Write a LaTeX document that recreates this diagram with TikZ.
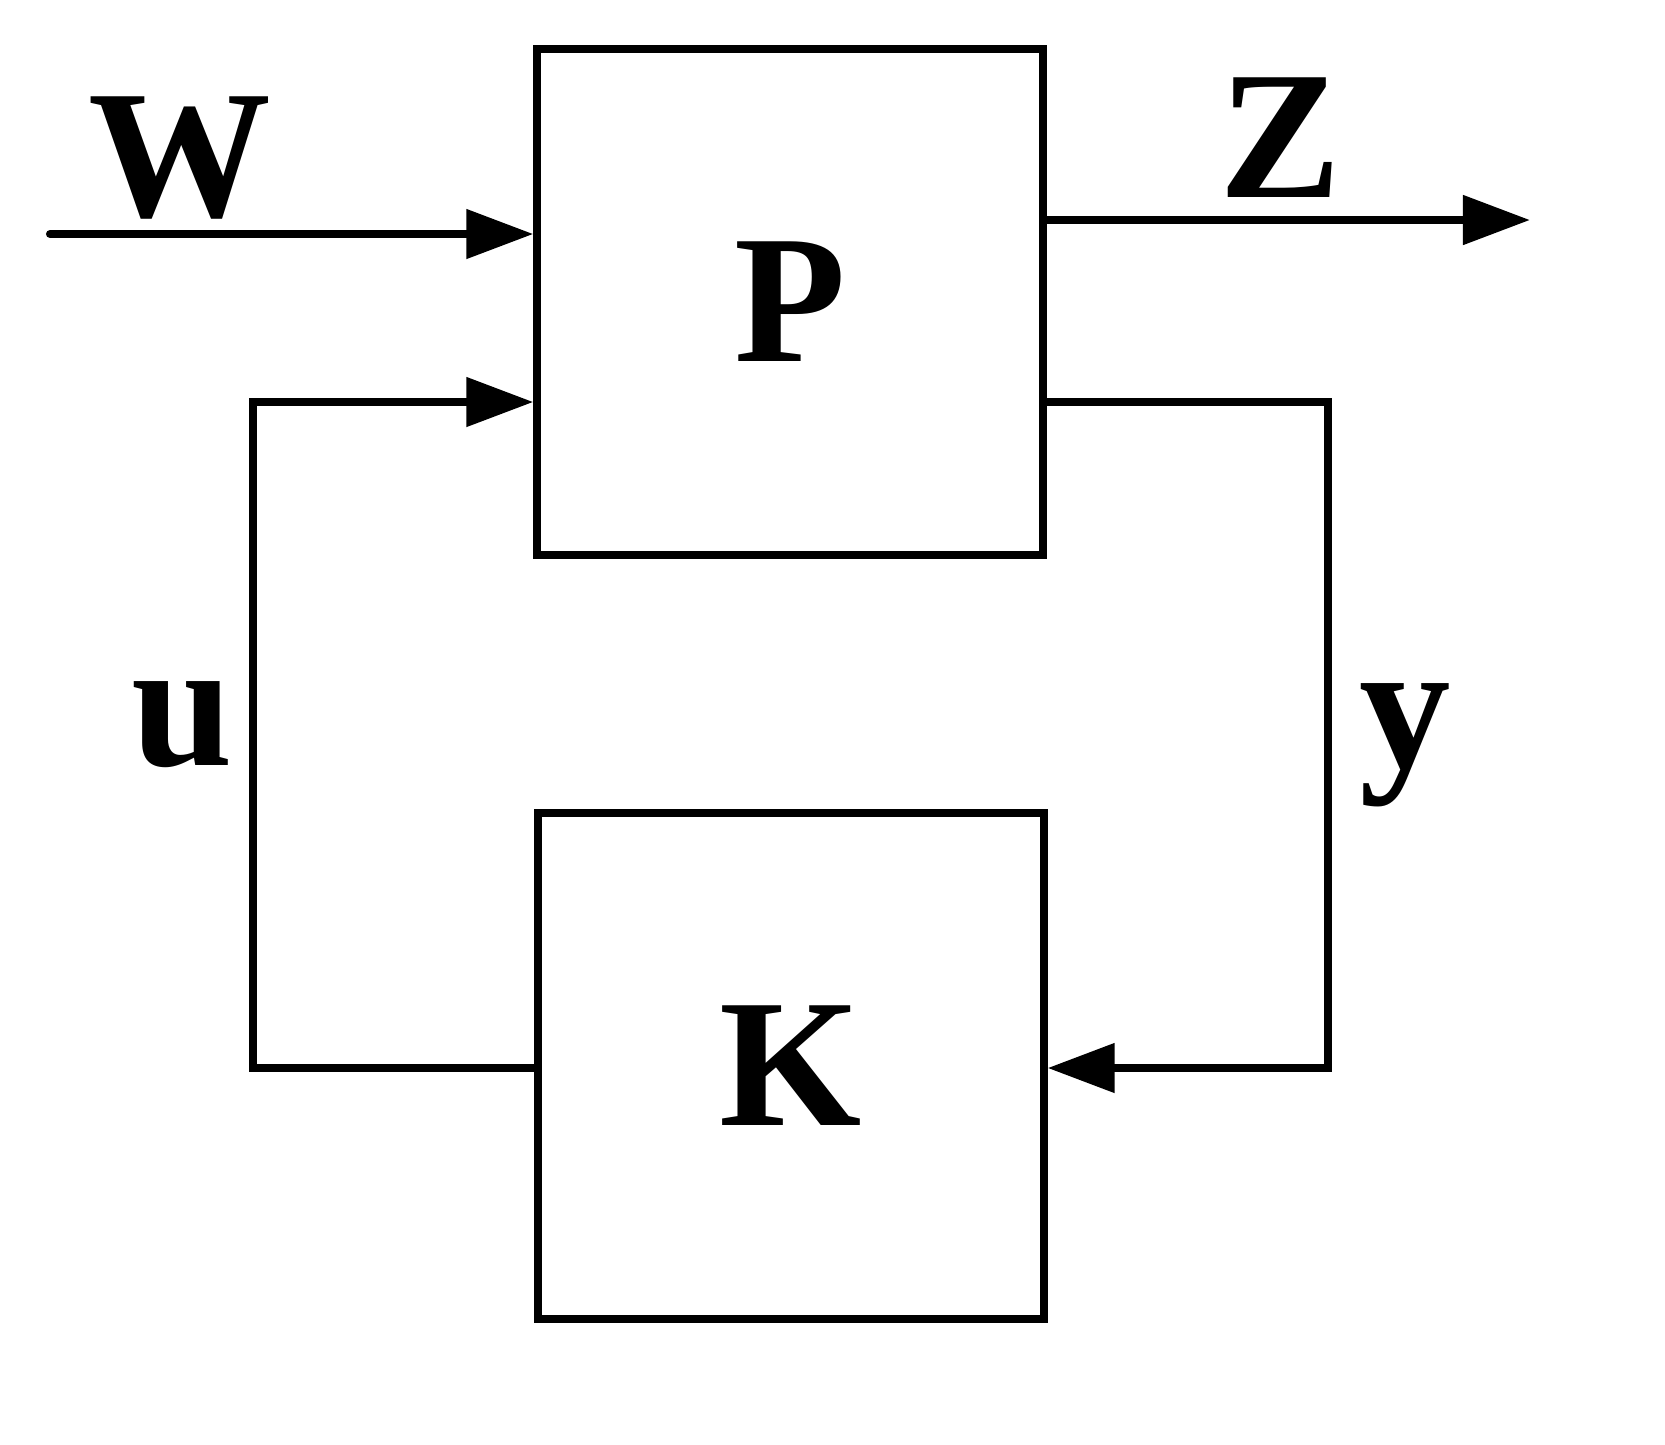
\documentclass[tikz,border=0pt]{standalone}
\usepackage{fontspec}
\setmainfont{Liberation Serif}[BoldFont = {Liberation Serif Bold}]
\usetikzlibrary{arrows.meta}

\begin{document}
\begin{tikzpicture}[
    x = 0.01cm, y = -0.01cm,
    line width = 2.3pt,
    block/.style = {draw, minimum width = 5.05cm, minimum height = 5.05cm, inner sep = 0pt},
    lbl/.style = {font = \fontsize{52}{52}\selectfont\bfseries},
    sig/.style = {-{Triangle[length = 6.7mm, width = 4.8mm]}}]

\useasboundingbox (0,0) rectangle (1665,1444);

\node[block] (P) at (790,302) {};
\node[block] (K) at (791,1066) {};
\node[lbl] at (P.center) {P};
\node[lbl] at (K.center) {K};

\coordinate (w0) at (50,234);
\coordinate (z1) at (1530,220);
\coordinate (ua) at (253,1068);
\coordinate (ub) at (253,402);
\coordinate (ya) at (1328,402);
\coordinate (yb) at (1328,1068);

\draw[sig, line cap = round] (w0) -- (w0 -| P.west);
\draw[sig] (z1 -| P.east) -- (z1);
\draw[sig] (ua -| K.west) -- (ua) -- (ub) -- (ub -| P.west);
\draw[sig] (ya -| P.east) -- (ya) -- (yb) -- (yb -| K.east);

\node[lbl] (w) at (180,158) {W};
\node[lbl] (z) at (1280,138) {Z};
\node[lbl] (u) at (182,725) {u};
\node[lbl] (y) at (1405,745) {y};
\end{tikzpicture}
\end{document}
